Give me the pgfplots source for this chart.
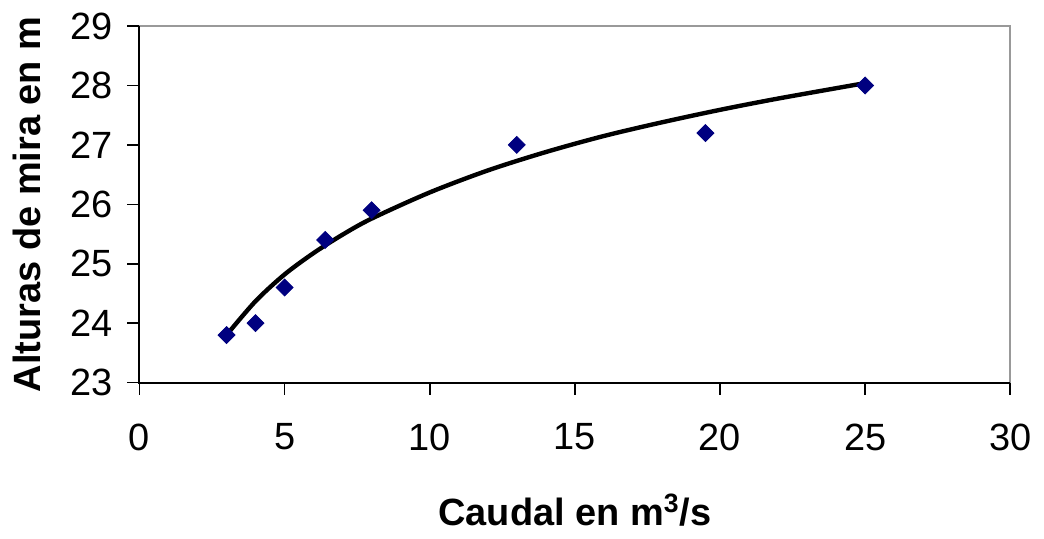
\documentclass[border=0pt]{standalone}
\usepackage{fontspec}
\setmainfont{Liberation Sans}
\usepackage{pgfplots}
\pgfplotsset{compat=1.18}
\definecolor{ptnavy}{RGB}{0,0,128}
\begin{document}
\fontsize{19}{22}\selectfont
\begin{tikzpicture}
\begin{axis}[
  scale only axis,
  width=436pt, height=178.5pt,
  xmin=0, xmax=30, ymin=23, ymax=29,
  xtick={0,5,...,30}, ytick={23,24,...,29},
  xtick pos=left, ytick pos=left,
  tick align=outside,
  major tick length=6pt,
  tick style={black, line width=0.8pt},
  axis line style={gray!80, line width=0.8pt},
  /pgf/number format/assume math mode=true,
  xticklabel style={yshift=-8pt},
  yticklabel style={xshift=-1pt},
  xlabel={\textbf{Caudal en m\textsuperscript{3}/s}},
  ylabel={\textbf{Alturas de mira en m}},
  xlabel style={yshift=-9pt},
  ylabel style={yshift=2pt},
  clip=false,
]
% trend line (logarithmic fit)
\addplot[black, line width=2.2pt, smooth] coordinates {
  (3,23.80) (4,24.37) (5,24.82) (6,25.18) (7,25.49) (8,25.76)
  (10,26.20) (12,26.57) (14,26.88) (16,27.15) (18,27.38)
  (20,27.59) (22,27.78) (25,28.04)
};
% measured points
\addplot[only marks, mark=square*, mark size=3pt,
  mark options={rotate=45, fill=ptnavy, draw=ptnavy}] coordinates {
  (3,23.8) (4,24.0) (5,24.6) (6.4,25.4) (8,25.9) (13,27.0) (19.5,27.2) (25,28.0)
};
\draw[black, line width=1pt] (rel axis cs:0,1) -- (rel axis cs:0,0) -- (rel axis cs:1,0);
\end{axis}
\end{tikzpicture}
\end{document}
